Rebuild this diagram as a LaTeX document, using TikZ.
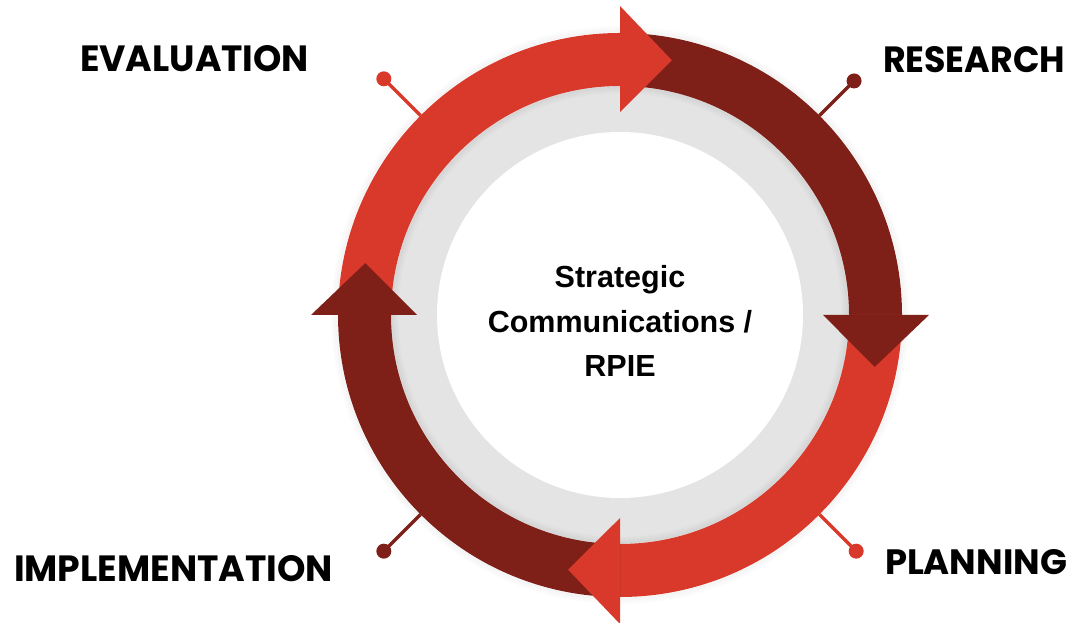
\documentclass[tikz,border=0pt]{standalone}
\usepackage{fontspec}
\setmainfont{Liberation Sans}
\newfontfamily\labelfont{Poppins}
\usetikzlibrary{calc}

\definecolor{ringred}{HTML}{D8392B}
\definecolor{ringdark}{HTML}{7E1F18}
\definecolor{discgray}{HTML}{E4E4E4}

\tikzset{
  phase/.style={font=\labelfont\bfseries, text=black, inner sep=0pt, outer sep=0pt},
  pinline/.style={line width=3.5pt},
  pindot/.style={circle, inner sep=0pt, minimum size=15pt},
  hub/.style={font=\bfseries\fontsize{30.5}{44.5}\selectfont, align=center, inner sep=0pt}
}

% annular sector of the ring between two angles
\newcommand{\ringsector}[3]{%
  \fill[#1] (#2:282) arc[start angle=#2, end angle=#3, radius=282]
    -- (#3:229) arc[start angle=#3, end angle=#2, radius=229] -- cycle;}
% arrow head whose base lies on the radius at angle #2, pointing clockwise
\newcommand{\ringhead}[2]{%
  \fill[#1] (#2:203) -- (#2:309) -- ({#2-11.5}:260) -- cycle;}

\begin{document}
\begin{tikzpicture}[x=1pt, y=1pt]
\useasboundingbox (0,0) rectangle (1075,623);

\begin{scope}[shift={(620,308)}]
  % grey band and white centre
  \fill[discgray] (0,0) circle[radius=235];
  % soft shadow around the ring
  \foreach \i in {1,...,7} {
    \draw[black, opacity={0.035*(8-\i)/7}, line width=1.2pt] (0,0) circle[radius={282+\i}];
    \draw[black, opacity={0.05*(8-\i)/7}, line width=1.2pt] (0,0) circle[radius={229-\i}];
  }
  \fill[white] (0,0) circle[radius=183];

  % ring bodies
  \ringsector{ringred}{90}{180}
  \ringsector{ringdark}{0}{90}
  \ringsector{ringred}{270}{360}
  \ringsector{ringdark}{180}{270}

  % arrow heads
  \ringhead{ringred}{90}
  \ringhead{ringdark}{0}
  \ringhead{ringred}{270}
  \ringhead{ringdark}{180}

  % pins on the diagonals
  \coordinate (evalring) at (135:282);
  \coordinate (resring) at (45:282);
  \coordinate (impring) at (225:282);
  \coordinate (planring) at (-45:282);
  \node[pindot, fill=ringred] (evaldot) at (135:334) {};
  \node[pindot, fill=ringdark] (resdot) at (45:331) {};
  \node[pindot, fill=ringdark] (impdot) at (225:334) {};
  \node[pindot, fill=ringred] (plandot) at (-45:334) {};
  \draw[pinline, ringred] (evalring) -- (evaldot.center);
  \draw[pinline, ringdark] (resring) -- (resdot.center);
  \draw[pinline, ringdark] (impring) -- (impdot.center);
  \draw[pinline, ringred] (planring) -- (plandot.center);

  \node[hub] (hub) at (0,-6) {Strategic\\Communications /\\RPIE};
\end{scope}

% phase labels
\node[phase, anchor=south west] (eval) at (80,551) {\resizebox{229pt}{26pt}{EVALUATION}};
\node[phase, anchor=south west] (res) at (883,550) {\resizebox{182pt}{26pt}{RESEARCH}};
\node[phase, anchor=south west] (plan) at (885,48) {\resizebox{182pt}{25pt}{PLANNING}};
\node[phase, anchor=south west] (imp) at (14,41) {\resizebox{319pt}{26pt}{IMPLEMENTATION}};
\end{tikzpicture}
\end{document}
